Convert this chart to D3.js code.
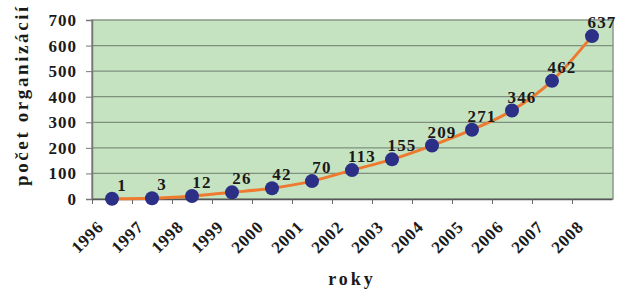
<!DOCTYPE html>
<html>
  <head>
    <script src="https://cdn.jsdelivr.net/npm/d3@7"></script>
    <style>
      body { margin: 0; background: #fff; }
      text { font-family: "Liberation Serif", "Times New Roman", serif; font-weight: bold; }
    </style>
  </head>
  <body>
    <svg width="618" height="289" id="mainsvg"></svg>
    <script>
      const years = ['1996','1997','1998','1999','2000','2001','2002','2003','2004','2005','2006','2007','2008'];
      const counts = [1, 3, 12, 26, 42, 70, 113, 155, 209, 271, 346, 462, 637];
      const yTicks = [0, 100, 200, 300, 400, 500, 600, 700];
      const yAxisLabel = 'počet organizácií';
      const xAxisLabel = 'roky';

      const svg = d3.select('#mainsvg');
      const margin = {top: 20, right: 5, bottom: 90, left: 92};
      const innerWidth = 613 - margin.left;
      const innerHeight = 199 - margin.top;
      const g = svg.append('g')
        .attr('transform', `translate(${margin.left}, ${margin.top})`);

      // category axis: ticks sit between the years, points in the middle
      const xScale = d3.scaleLinear().domain([0, years.length]).range([0, 520]);
      const yScale = d3.scaleLinear().domain([0, 700]).range([innerHeight, 0]);

      g.append('rect')
        .attr('width', innerWidth).attr('height', innerHeight)
        .attr('fill', '#c6e3c1').attr('stroke', '#8a9a8a').attr('stroke-width', 1.5);

      g.selectAll('.grid').data(yTicks.slice(1, -1)).join('line')
        .attr('class', 'grid')
        .attr('x1', 0).attr('x2', innerWidth)
        .attr('y1', d => yScale(d)).attr('y2', d => yScale(d))
        .attr('stroke', '#7e917e').attr('stroke-width', 1.3);

      const yAxis = d3.axisLeft(yScale).tickValues(yTicks).tickSize(6).tickPadding(9);
      const yg = g.append('g').call(yAxis);
      yg.select('.domain').attr('stroke', '#777').attr('stroke-width', 1.5);
      yg.selectAll('.tick line').attr('stroke', '#777');
      yg.selectAll('.tick text').attr('font-size', 17).attr('letter-spacing', 1).attr('fill', '#1a1a1a');

      const xAxis = d3.axisBottom(xScale)
        .tickValues(d3.range(years.length))
        .tickFormat(i => years[i])
        .tickSize(5).tickSizeOuter(0);
      const xg = g.append('g').attr('transform', `translate(0, ${innerHeight})`).call(xAxis);
      xg.select('.domain').attr('stroke', '#555').attr('stroke-width', 1.5);
      xg.selectAll('.tick line').attr('stroke', '#666');
      xg.selectAll('.tick text')
        .attr('font-size', 17).attr('letter-spacing', 0.8).attr('fill', '#1a1a1a')
        .attr('text-anchor', 'end')
        .attr('dy', 0).attr('y', 0)
        .attr('transform', 'translate(12, 29) rotate(-45)');

      const line = d3.line()
        .x((d, i) => xScale(i + 0.5))
        .y(d => yScale(d))
        .curve(d3.curveMonotoneX);
      g.append('path').datum(counts)
        .attr('d', line)
        .attr('fill', 'none').attr('stroke', '#ee7a30').attr('stroke-width', 3);

      g.selectAll('circle').data(counts).join('circle')
        .attr('cx', (d, i) => xScale(i + 0.5))
        .attr('cy', d => yScale(d))
        .attr('r', 7)
        .attr('fill', '#2b2f86');

      g.selectAll('.val').data(counts).join('text')
        .attr('class', 'val')
        .attr('x', (d, i) => xScale(i + 0.5) + 10)
        .attr('y', d => yScale(d) - 8)
        .attr('text-anchor', 'middle')
        .attr('font-size', 17).attr('letter-spacing', 1.2).attr('fill', '#1a1a1a')
        .text(d => d);

      svg.append('text')
        .attr('transform', 'translate(28, 95) rotate(-90)')
        .attr('text-anchor', 'middle')
        .attr('font-size', 19).attr('letter-spacing', 2.6).attr('fill', '#1a1a1a')
        .text(yAxisLabel);

      svg.append('text')
        .attr('x', 352).attr('y', 285)
        .attr('text-anchor', 'middle')
        .attr('font-size', 18).attr('letter-spacing', 3).attr('fill', '#1a1a1a')
        .text(xAxisLabel);
    </script>
  </body>
</html>
